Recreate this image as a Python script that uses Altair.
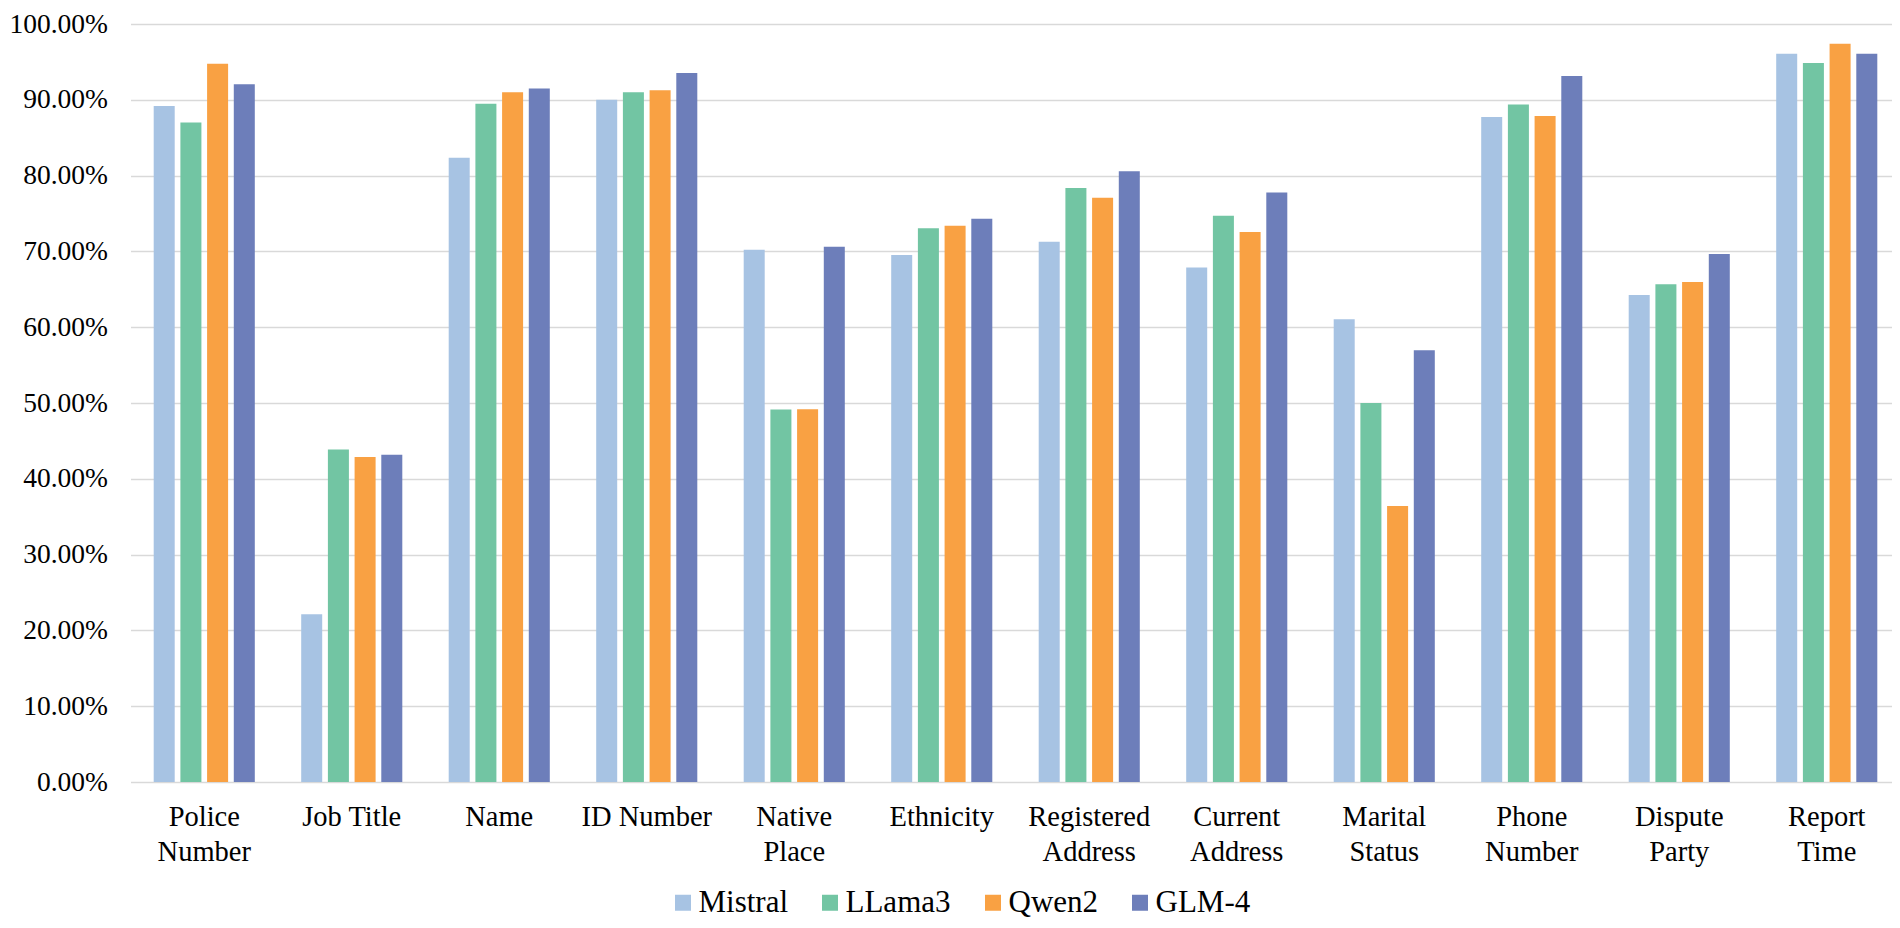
import altair as alt
import pandas as pd

categories = ["Police\nNumber", "Job Title", "Name", "ID Number", "Native\nPlace", "Ethnicity",
              "Registered\nAddress", "Current\nAddress", "Marital\nStatus", "Phone\nNumber",
              "Dispute\nParty", "Report\nTime"]
models = ["Mistral", "LLama3", "Qwen2", "GLM-4"]
mistral = [89.17, 22.13, 82.35, 90.00, 70.22, 69.52, 71.26, 67.87, 61.04, 87.74, 64.26, 96.09]
llama3 = [87.00, 43.87, 89.48, 91.00, 49.13, 73.04, 78.35, 74.70, 50.00, 89.39, 65.65, 94.87]
qwen2 = [94.74, 42.87, 91.00, 91.26, 49.17, 73.39, 77.09, 72.57, 36.40, 87.87, 65.96, 97.39]
glm4 = [92.04, 43.17, 91.48, 93.52, 70.61, 74.30, 80.57, 77.78, 56.96, 93.13, 69.65, 96.09]
colors = ["#A7C3E3", "#72C5A3", "#F9A143", "#6D7EBA"]
y_ticks = [0, 10, 20, 30, 40, 50, 60, 70, 80, 90, 100]

rows = []
for m, vals in zip(models, [mistral, llama3, qwen2, glm4]):
    for c, v in zip(categories, vals):
        rows.append({"category": c, "model": m, "value": v})
df = pd.DataFrame(rows)

FONT = "Liberation Serif"

chart = alt.Chart(df).mark_bar().encode(
    x=alt.X("category:N", sort=categories,
            scale=alt.Scale(range=[0, 1770], paddingInner=0, paddingOuter=0),
            axis=alt.Axis(title=None, labelAngle=0, labelExpr="split(datum.label, '\\n')",
                          ticks=False, tickSize=0, domain=False, grid=False, labelPadding=20,
                          labelFontSize=28.5, labelLineHeight=35,
                          labelColor="#000000", labelLimit=400)),
    xOffset=alt.XOffset("model:N", sort=models,
                        scale=alt.Scale(paddingInner=0.213, paddingOuter=0.869)),
    y=alt.Y("value:Q", scale=alt.Scale(domain=[0, 100], nice=False),
            axis=alt.Axis(title=None, values=y_ticks,
                          labelExpr="format(datum.value, '.2f') + '%'",
                          ticks=False, tickSize=0, domain=False, grid=True,
                          gridColor="#D9D9D9", gridWidth=1.5, labelPadding=23,
                          labelFontSize=27.5, labelColor="#000000")),
    color=alt.Color("model:N", sort=models,
                    scale=alt.Scale(domain=models, range=colors),
                    legend=alt.Legend(title=None, orient="none", legendX=535, legendY=863,
                                      direction="horizontal", columns=4, symbolType="square",
                                      symbolSize=256, symbolStrokeWidth=0, symbolOffset=2,
                                      labelFontSize=31, labelColor="#000000", labelOffset=0,
                                      columnPadding=24, labelLimit=400)),
).properties(
    width=1761.5,
    height=758,
    autosize=alt.AutoSizeParams(type="none"),
    padding={"left": 122.5, "top": 16, "right": 0, "bottom": 138},
).configure(
    font=FONT
).configure_axis(
    labelFont=FONT
).configure_legend(
    labelFont=FONT
).configure_view(stroke=None)

chart.save("out.html", embed_options={"renderer": "svg", "actions": False})
